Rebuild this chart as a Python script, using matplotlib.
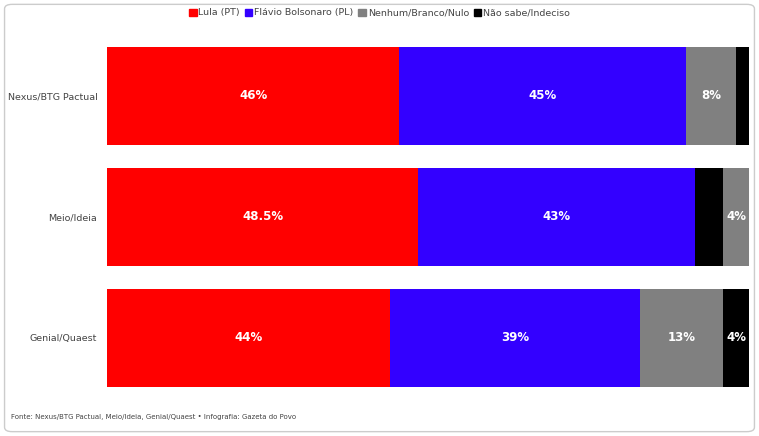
import matplotlib.pyplot as plt
from matplotlib.patches import FancyBboxPatch, Patch

institutes = ["Nexus/BTG Pactual", "Meio/Ideia", "Genial/Quaest"]
series = ["Lula (PT)", "Flávio Bolsonaro (PL)", "Nenhum/Branco/Nulo", "Não sabe/Indeciso"]
colors = ["#ff0000", "#3300ff", "#808080", "#000000"]
values = {
    "Lula (PT)": [46, 48.5, 44],
    "Flávio Bolsonaro (PL)": [45, 43, 39],
    "Nenhum/Branco/Nulo": [8, 4, 13],
    "Não sabe/Indeciso": [2, 4.5, 4],
}
labels = {
    "Lula (PT)": ["46%", "48.5%", "44%"],
    "Flávio Bolsonaro (PL)": ["45%", "43%", "39%"],
    "Nenhum/Branco/Nulo": ["8%", "4%", "13%"],
    "Não sabe/Indeciso": ["", "", "4%"],
}
orders = [[0, 1, 2, 3], [0, 1, 3, 2], [0, 1, 2, 3]]

fig = plt.figure(figsize=(7.59, 4.36), dpi=100)
fig.patches.append(FancyBboxPatch((0.006, 0.01), 0.988, 0.98, boxstyle="round,pad=0,rounding_size=0.01",
                                  transform=fig.transFigure, fill=False, ec="#cccccc", lw=1))
ax = fig.add_axes([0.141, 0.086, 0.846, 0.833])
for i, inst in enumerate(institutes):
    total = sum(values[s][i] for s in series)
    left = 0
    for k in orders[i]:
        s = series[k]
        w = values[s][i] / total * 100
        ax.barh(i, w, left=left, height=0.81, color=colors[k])
        if labels[s][i]:
            ax.text(left + w / 2, i, labels[s][i], ha="center", va="center",
                    color="white", fontsize=8.5, fontweight="bold")
        left += w
ax.set_xlim(0, 100)
ax.set_ylim(2.5, -0.5)
ax.set_yticks(range(3))
ax.set_yticklabels(institutes, fontsize=6.8, color="#444444")
ax.set_xticks([])
ax.tick_params(axis="y", length=0, pad=7)
for sp in ax.spines.values():
    sp.set_visible(False)
handles = [Patch(color=c, label=s) for s, c in zip(series, colors)]
fig.legend(handles=handles, loc="upper center", bbox_to_anchor=(0.5, 1.0), ncol=4, frameon=False,
           fontsize=6.8, handlelength=0.8, handleheight=0.8, handletextpad=0.2, columnspacing=0.5,
           labelcolor="#444444")
fig.text(0.014, 0.038, "Fonte: Nexus/BTG Pactual, Meio/Ideia, Genial/Quaest • Infografia: Gazeta do Povo",
         fontsize=5.0, color="#444444")
fig.savefig("out.png", dpi=100)
